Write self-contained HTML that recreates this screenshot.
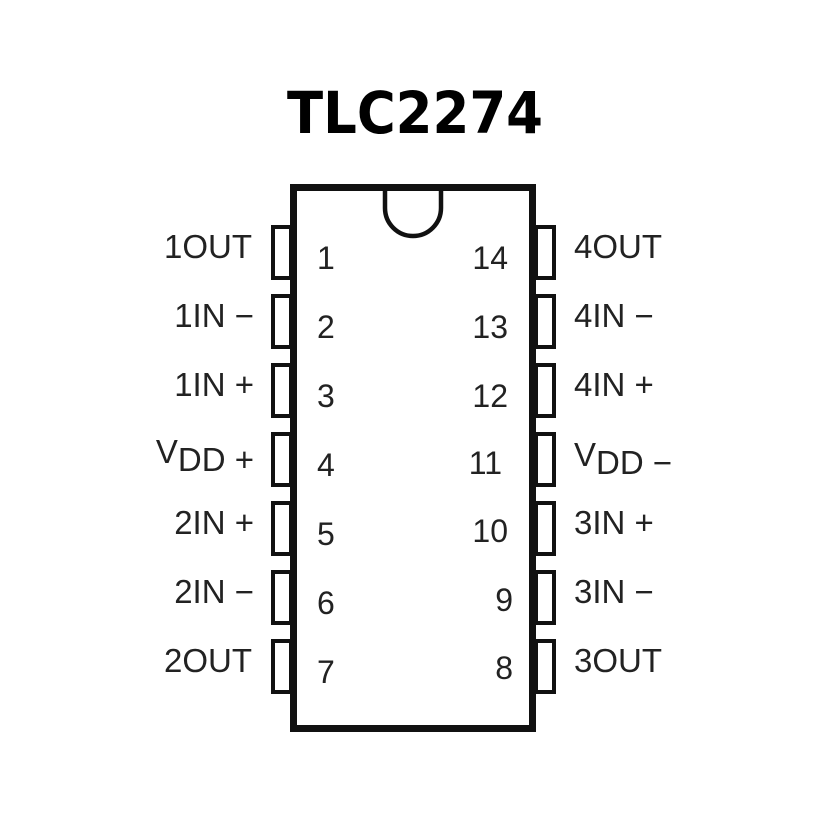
<!DOCTYPE html>
<html><head><style>body{margin:0;background:#fff}</style></head><body>
<svg width="827" height="827" viewBox="0 0 827 827" xmlns="http://www.w3.org/2000/svg" font-family="Liberation Sans, Arial, sans-serif" fill="#222">
<text x="287" y="133" textLength="256" lengthAdjust="spacingAndGlyphs" font-size="58" font-weight="bold" fill="#000" font-family="DejaVu Sans, Liberation Sans, sans-serif">TLC2274</text>
<g fill="none" stroke="#111" stroke-width="4">
<rect x="273" y="227" width="18" height="51"/>
<rect x="273" y="296" width="18" height="51"/>
<rect x="273" y="365" width="18" height="51"/>
<rect x="273" y="434" width="18" height="51"/>
<rect x="273" y="503" width="18" height="51"/>
<rect x="273" y="572" width="18" height="51"/>
<rect x="273" y="641" width="18" height="51"/>
<rect x="536" y="227" width="18" height="51"/>
<rect x="536" y="296" width="18" height="51"/>
<rect x="536" y="365" width="18" height="51"/>
<rect x="536" y="434" width="18" height="51"/>
<rect x="536" y="503" width="18" height="51"/>
<rect x="536" y="572" width="18" height="51"/>
<rect x="536" y="641" width="18" height="51"/>
</g>
<rect x="293.5" y="187.5" width="239" height="541" fill="#fff" stroke="#111" stroke-width="7"/>
<path d="M385 190 L385 208 A28 28 0 0 0 441 208 L441 190" fill="none" stroke="#111" stroke-width="4.5"/>
<g font-size="33" text-anchor="end">
<text x="252" y="258">1OUT</text>
<text x="254" y="327">1IN −</text>
<text x="254" y="396">1IN +</text>
<text x="254" y="471"><tspan dy="-8">V</tspan><tspan dy="8">DD +</tspan></text>
<text x="254" y="534">2IN +</text>
<text x="254" y="603">2IN −</text>
<text x="252" y="672">2OUT</text>
</g>
<g font-size="33">
<text x="574" y="258">4OUT</text>
<text x="574" y="327">4IN −</text>
<text x="574" y="396">4IN +</text>
<text x="574" y="474"><tspan dy="-8">V</tspan><tspan dy="8">DD −</tspan></text>
<text x="574" y="534">3IN +</text>
<text x="574" y="603">3IN −</text>
<text x="574" y="672">3OUT</text>
</g>
<g font-size="32">
<text x="317" y="269">1</text>
<text x="317" y="338">2</text>
<text x="317" y="407">3</text>
<text x="317" y="476">4</text>
<text x="317" y="545">5</text>
<text x="317" y="614">6</text>
<text x="317" y="683">7</text>
</g>
<g font-size="32" text-anchor="end">
<text x="508" y="269">14</text>
<text x="508" y="338">13</text>
<text x="508" y="407">12</text>
<text x="502" y="474">11</text>
<text x="508" y="542">10</text>
<text x="513" y="611">9</text>
<text x="513" y="679">8</text>
</g>
</svg>
</body></html>
